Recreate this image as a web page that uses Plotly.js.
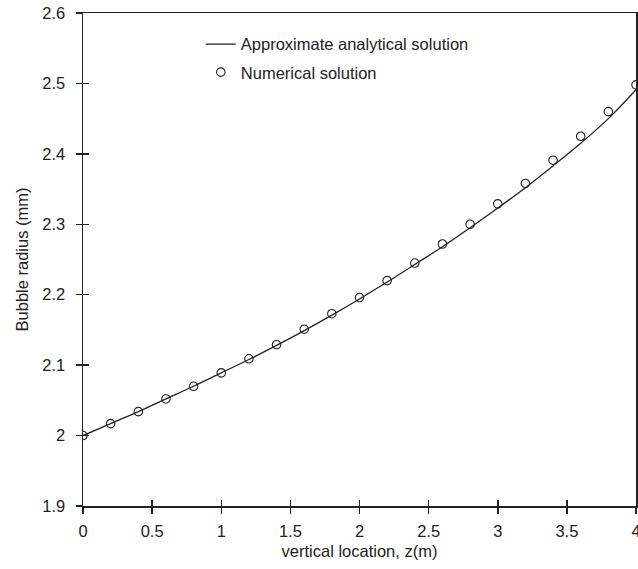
<!DOCTYPE html>
<html>
<head>
<meta charset="utf-8">
<script src="https://cdn.plot.ly/plotly-3.0.1.min.js"></script>
<style>html,body{margin:0;padding:0;background:#fff;}#chart{width:638px;height:569px;}</style>
</head>
<body>
<div id="chart"></div>
<script>
// Data
var zValues = [0, 0.2, 0.4, 0.6, 0.8, 1.0, 1.2, 1.4, 1.6, 1.8, 2.0, 2.2, 2.4, 2.6, 2.8, 3.0, 3.2, 3.4, 3.6, 3.8, 4.0];
var analyticalRadius = [2.000, 2.017, 2.034, 2.052, 2.070, 2.089, 2.108, 2.128, 2.149, 2.171, 2.194, 2.218, 2.243, 2.268, 2.295, 2.323, 2.352, 2.383, 2.415, 2.450, 2.491];
var numericalRadius = [2.000, 2.017, 2.034, 2.052, 2.070, 2.089, 2.109, 2.129, 2.151, 2.173, 2.196, 2.220, 2.245, 2.272, 2.300, 2.329, 2.358, 2.391, 2.425, 2.460, 2.498];
var xTicks = [0, 0.5, 1, 1.5, 2, 2.5, 3, 3.5, 4];
var yTicks = [1.9, 2, 2.1, 2.2, 2.3, 2.4, 2.5, 2.6];

var FONT = '"Liberation Sans", Arial, Helvetica, sans-serif';
var INK = '#222222';
var FS = 16.5;

var traces = [
  {
    x: zValues, y: analyticalRadius, type: 'scatter', mode: 'lines',
    name: 'Approximate analytical solution',
    line: {color: INK, width: 1.3, shape: 'spline'},
    legend: 'legend'
  },
  {
    x: zValues, y: numericalRadius, type: 'scatter', mode: 'markers',
    name: 'Numerical solution',
    marker: {symbol: 'circle-open', size: 8.5, color: INK, line: {width: 1.1, color: INK}},
    legend: 'legend2'
  },
  // empty helper trace so the overlay axes (inner tick halves) are drawn
  {x: [], y: [], xaxis: 'x2', yaxis: 'y2', type: 'scatter', mode: 'lines', showlegend: false, hoverinfo: 'skip'}
];

var axisCommon = {
  showgrid: false, zeroline: false, showline: true, linecolor: INK, linewidth: 1.5,
  mirror: true, ticks: 'outside', ticklen: 6, tickwidth: 1.5, tickcolor: INK,
  ticklabeloverflow: 'allow',
  tickfont: {family: FONT, size: FS, color: INK}
};

var layout = {
  width: 638, height: 569,
  margin: {l: 83, r: 2, t: 13, b: 63},
  paper_bgcolor: '#fff', plot_bgcolor: '#fff',
  font: {family: FONT, size: FS, color: INK},
  xaxis: Object.assign({}, axisCommon, {
    range: [0, 4], tickvals: xTicks, ticklabelstandoff: 4,
    title: {text: 'vertical location, z(m)', font: {family: FONT, size: FS, color: INK}, standoff: 6}
  }),
  yaxis: Object.assign({}, axisCommon, {
    range: [1.9, 2.6], tickvals: yTicks, ticklabelstandoff: 7,
    title: {text: 'Bubble radius (mm)', font: {family: FONT, size: FS, color: INK}, standoff: 9}
  }),
  xaxis2: {overlaying: 'x', anchor: 'y2', range: [0, 4], tickvals: xTicks, showgrid: false, zeroline: false,
    showline: false, ticks: 'inside', ticklen: 6, tickwidth: 1.5, tickcolor: INK, showticklabels: false},
  yaxis2: {overlaying: 'y', anchor: 'x2', range: [1.9, 2.6], tickvals: yTicks, showgrid: false, zeroline: false,
    showline: false, ticks: 'inside', ticklen: 6, tickwidth: 1.5, tickcolor: INK, showticklabels: false},
  showlegend: true,
  legend: {x: 0.213, y: 0.972, xanchor: 'left', yanchor: 'top', bgcolor: 'rgba(0,0,0,0)', borderwidth: 0,
    font: {family: FONT, size: FS, color: INK}},
  legend2: {x: 0.213, y: 0.915, xanchor: 'left', yanchor: 'top', bgcolor: 'rgba(0,0,0,0)', borderwidth: 0,
    font: {family: FONT, size: FS, color: INK}}
};

Plotly.newPlot('chart', traces, layout, {displayModeBar: false, staticPlot: true});
</script>
</body>
</html>
